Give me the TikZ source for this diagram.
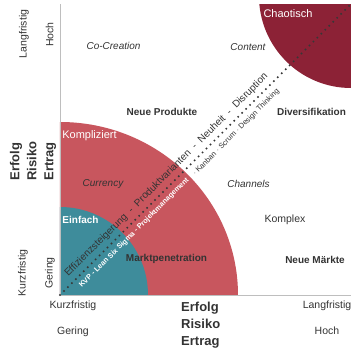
\documentclass[tikz,border=0pt]{standalone}
\usepackage{fontspec}
\setmainfont{Liberation Sans}
\definecolor{tealc}{RGB}{62,140,155}
\definecolor{redc}{RGB}{200,86,94}
\definecolor{darkredc}{RGB}{140,34,54}
\definecolor{txt}{RGB}{51,51,51}
\definecolor{axisc}{RGB}{190,190,190}
\definecolor{dotc}{RGB}{55,55,55}
\begin{document}
\begin{tikzpicture}[x=1pt,y=1pt,
  lbl/.style={text=txt, inner sep=0pt, font=\fontsize{10}{12}\selectfont},
  axlbl/.style={text=txt, inner sep=0pt, font=\fontsize{10.5}{12}\selectfont},
  ital/.style={text=txt, inner sep=0pt, font=\fontsize{10}{12}\selectfont\itshape},
  bold/.style={text=txt, inner sep=0pt, font=\fontsize{10}{12}\selectfont\bfseries},
  wlbl/.style={text=white, inner sep=0pt, font=\fontsize{11}{12}\selectfont},
  big/.style={text=txt, inner sep=0pt, align=left, font=\fontsize{13}{17}\selectfont\bfseries},
  axisline/.style={draw=axisc, line width=0.8pt},
  dotline/.style={draw=dotc, line width=2.2pt, line cap=round, dash pattern=on 0pt off 5.6pt}
]
\useasboundingbox (0,0) rectangle (360,360);
\coordinate (o) at (60,65);
\coordinate (tr) at (351,356);
\coordinate (ty) at (60,356);
\coordinate (rx) at (351,65);
% regions
\fill[redc] (o) -- (238,65) arc[start angle=0,end angle=90,x radius=178,y radius=173] -- cycle;
\fill[tealc] (o) -- (148,65) arc[start angle=0,end angle=90,radius=88] -- cycle;
\begin{scope}
  \clip (o) rectangle (tr);
  \fill[darkredc] (351,364) circle[radius=92];
\end{scope}
% axes
\draw[axisline] (ty) -- (o) -- (rx);
% diagonal
\draw[dotline] (o) -- (tr);
% diagonal texts
\node[text=txt, inner sep=0pt, rotate=45, font=\fontsize{10}{12}\selectfont] (upper) at (166.4,184.9)
  {Effizienzsteigerung\ \ -\ \ Produktvarianten\ \ -\ \ Neuheit\ \ -\ \ Disruption};
\node[text=white, inner sep=0pt, rotate=45, font=\fontsize{7.3}{9}\selectfont\bfseries] (lowerw) at (134.2,127.2)
  {KVP\ -\ Lean Six Sigma\ -\ Projektmanagement};
\node[text=txt, inner sep=0pt, rotate=45, font=\fontsize{7.5}{9}\selectfont] (lowerd) at (236.1,227.6)
  {$\cdot$ Kanban $\cdot$ Scrum $\cdot$ Design Thinking};
% region labels
\node[wlbl] (chaot) at (288,346) {Chaotisch};
\node[wlbl] (kompl) at (89.5,224) {Kompliziert};
\node[wlbl, font=\fontsize{10}{12}\selectfont\bfseries] (einf) at (80.5,140) {Einfach};
\node[lbl, font=\fontsize{10.5}{12}\selectfont] (komplex) at (285,140) {Komplex};
\node[ital] (cocr) at (113.5,314) {Co-Creation};
\node[ital] (cont) at (248,313) {Content};
\node[ital] (curr) at (103,176) {Currency};
\node[ital] (chan) at (248.5,176) {Channels};
\node[bold] (neuprod) at (162,248) {Neue Produkte};
\node[bold] (divers) at (311.5,248) {Diversifikation};
\node[bold] (markt) at (166.5,101) {Marktpenetration};
\node[bold] (neumarkt) at (315,100) {Neue Märkte};
% axis labels left
\node[axlbl, rotate=90] (langl) at (24,326) {Langfristig};
\node[axlbl, rotate=90] (hochl) at (49.5,325.5) {Hoch};
\node[axlbl, rotate=90] (kurzl) at (23,87) {Kurzfristig};
\node[axlbl, rotate=90] (geringl) at (50,87) {Gering};
\node[big, rotate=90] (erfl) at (33,199) {Erfolg\\Risiko\\Ertrag};
% axis labels bottom
\node[axlbl] (kurzb) at (73,54) {Kurzfristig};
\node[axlbl] (geringb) at (73,28) {Gering};
\node[axlbl] (langb) at (327,54) {Langfristig};
\node[axlbl] (hochb) at (327,29) {Hoch};
\node[big, anchor=west] (erfb) at (181,35) {Erfolg\\Risiko\\Ertrag};
\end{tikzpicture}
\end{document}
